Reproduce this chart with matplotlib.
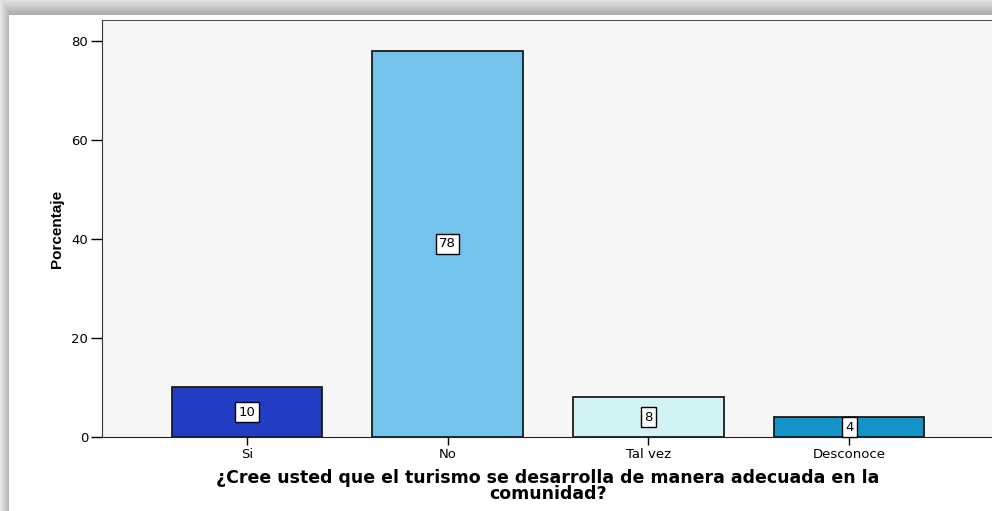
import numpy as np
import matplotlib
matplotlib.use("Agg")
import matplotlib.pyplot as plt

categories = ["Si", "No", "Tal vez", "Desconoce"]
values = [10, 78, 8, 4]
colors = ["#233CC4", "#74C3EA", "#D2F3F4", "#1493C8"]
yticks = [0, 20, 40, 60, 80]

W, H = 992, 511
fig = plt.figure(figsize=(W / 100, H / 100), dpi=100)
fig.patch.set_facecolor("white")

# Shadow frame background (darker next to the white panel)
bg = fig.add_axes([0, 0, 1, 1], zorder=-10)
bg.set_xlim(0, W)
bg.set_ylim(H, 0)
bg.axis("off")
yy, xx = np.mgrid[0:H, 0:W]
img = np.ones((H, W))
topmask = yy < 15
leftmask = xx < 9
tv = 0.88 - 0.22 * (yy / 15.0)
lv = 0.90 - 0.20 * (xx / 9.0)
img = np.where(topmask, tv, img)
img = np.where(leftmask & ~topmask, lv, img)
img = np.where(leftmask & topmask, np.maximum(tv, lv), img)
bg.imshow(img, cmap="gray", vmin=0, vmax=1, extent=(0, W, H, 0), aspect="auto",
          interpolation="nearest")

ax = fig.add_axes([102 / W, (H - 437) / H, (994 - 102) / W, (437 - 20) / H])
ax.set_facecolor("#F6F6F6")
x = np.arange(len(categories))
ax.bar(x, values, width=0.75, color=colors, edgecolor="#1a1a1a", linewidth=1.3, zorder=3)
for xi, v in zip(x, values):
    ax.text(xi, v / 2, str(v), ha="center", va="center", fontsize=9.5,
            family="DejaVu Sans", zorder=5,
            bbox=dict(boxstyle="square,pad=0.25", fc="white", ec="black", lw=1.0))

ax.set_xlim(-0.722, 3.722)
ax.set_ylim(0, 84.2)
ax.set_yticks(yticks)
ax.set_xticks(x)
ax.set_xticklabels(categories, fontsize=9.5, family="DejaVu Sans")
ax.set_yticklabels([str(t) for t in yticks], fontsize=9.5, family="DejaVu Sans")
ax.tick_params(axis="y", direction="out", length=8, width=1, pad=2)
ax.tick_params(axis="x", direction="out", length=6, width=1, pad=2)
ax.spines["right"].set_visible(False)
ax.spines["top"].set_color("#555555")
ax.spines["left"].set_color("#333333")
ax.spines["bottom"].set_color("#222222")

ax.set_ylabel("Porcentaje", fontsize=11, fontweight="bold",
              family="Liberation Sans", labelpad=5)
ax.set_xlabel("¿Cree usted que el turismo se desarrolla de manera adecuada en la\ncomunidad?",
              fontsize=12.5, fontweight="bold", family="DejaVu Sans", labelpad=6,
              linespacing=0.8)

fig.savefig("out.png", dpi=100)
